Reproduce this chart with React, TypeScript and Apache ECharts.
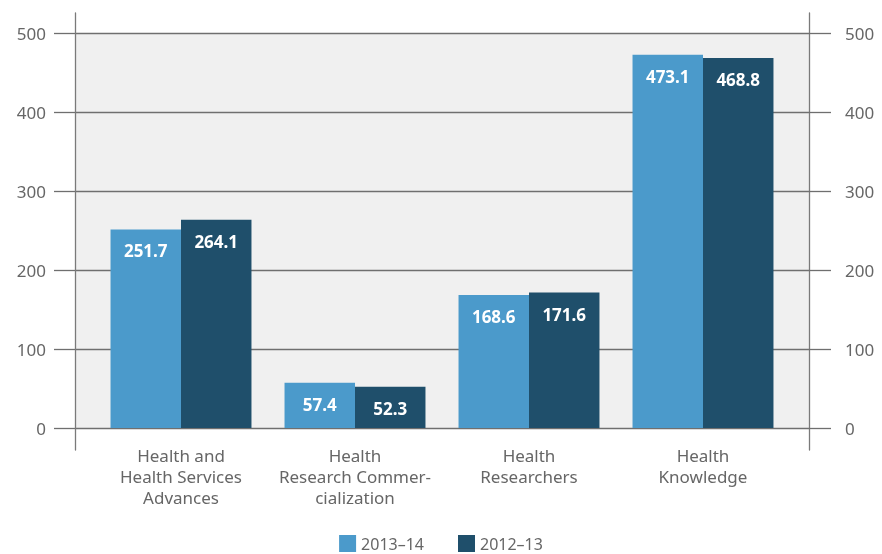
import React, { useEffect, useRef } from "react";
import * as echarts from "echarts";

const categories = [
  "Health and\nHealth Services\nAdvances",
  "Health\nResearch Commer-\ncialization",
  "Health\nResearchers",
  "Health\nKnowledge",
];
const seriesNames = ["2013–14", "2012–13"];
const values2013_14 = [251.7, 57.4, 168.6, 473.1];
const values2012_13 = [264.1, 52.3, 171.6, 468.8];
const yMin = 0;
const yMax = 500;
const yInterval = 100;

const FONT = "'Noto Sans', sans-serif";
const LIGHT = "#4b9acb";
const DARK = "#1f4f6b";
const GRIDLINE = "#6f6f6f";
const TEXT = "#666666";

export default function App() {
  const ref = useRef<HTMLDivElement>(null);
  useEffect(() => {
    if (!ref.current) return;
    const chart = echarts.init(ref.current, undefined, { renderer: "svg" });
    const valueLabel = {
      show: true,
      position: "insideTop",
      distance: 13,
      color: "#ffffff",
      fontWeight: "bold",
      fontSize: 17,
      lineHeight: 17,
      fontFamily: FONT,
      formatter: (p: any) => Number(p.value).toFixed(1),
    };
    chart.setOption({
      animation: false,
      textStyle: { fontFamily: FONT },
      legend: {
        data: seriesNames,
        top: 530,
        left: "center",
        icon: "rect",
        itemWidth: 17,
        itemHeight: 17,
        itemGap: 34,
        textStyle: { fontSize: 16, lineHeight: 17, color: TEXT, fontFamily: FONT },
      },
      grid: [
        { left: 75, right: 73, top: 33.5, bottom: 126, show: true, backgroundColor: "#f0f0f0", borderWidth: 0 },
        { left: 94, right: 92, top: 33.5, bottom: 126 },
        { left: 75, right: 73, top: 13, bottom: 104 },
      ],
      xAxis: [
        { type: "category", gridIndex: 0, data: ["a"], show: false },
        {
          type: "category",
          gridIndex: 1,
          data: categories,
          axisLine: { show: false },
          axisTick: { show: false },
          axisLabel: { interval: 0, fontSize: 17, color: TEXT, lineHeight: 21, margin: 17, fontFamily: FONT },
        },
        { type: "category", gridIndex: 2, data: ["a"], show: false },
      ],
      yAxis: [
        {
          type: "value",
          gridIndex: 0,
          position: "left",
          min: yMin,
          max: yMax,
          interval: yInterval,
          axisLine: { show: false },
          axisTick: { show: true, length: 21, lineStyle: { color: GRIDLINE, width: 1.3 } },
          splitLine: { show: true, lineStyle: { color: GRIDLINE, width: 1.3 } },
          axisLabel: { fontSize: 17, color: TEXT, margin: 29, fontFamily: FONT },
        },
        {
          type: "value",
          gridIndex: 0,
          position: "right",
          min: yMin,
          max: yMax,
          interval: yInterval,
          axisLine: { show: false },
          axisTick: { show: true, length: 22, lineStyle: { color: GRIDLINE, width: 1.3 } },
          splitLine: { show: false },
          axisLabel: { fontSize: 17, color: TEXT, margin: 36, fontFamily: FONT },
        },
        { type: "value", gridIndex: 1, min: yMin, max: yMax, interval: yInterval, show: false },
        {
          type: "value",
          gridIndex: 2,
          position: "left",
          min: 0,
          max: 1,
          axisLine: { show: true, lineStyle: { color: "#7a7a7a", width: 1.3 } },
          axisTick: { show: false },
          axisLabel: { show: false },
          splitLine: { show: false },
        },
        {
          type: "value",
          gridIndex: 2,
          position: "right",
          min: 0,
          max: 1,
          axisLine: { show: true, lineStyle: { color: "#7a7a7a", width: 1.3 } },
          axisTick: { show: false },
          axisLabel: { show: false },
          splitLine: { show: false },
        },
      ],
      series: [
        {
          name: seriesNames[0],
          type: "bar",
          xAxisIndex: 1,
          yAxisIndex: 2,
          data: values2013_14,
          itemStyle: { color: LIGHT },
          barGap: "0%",
          barCategoryGap: "19%",
          label: valueLabel,
        },
        {
          name: seriesNames[1],
          type: "bar",
          xAxisIndex: 1,
          yAxisIndex: 2,
          data: values2012_13,
          itemStyle: { color: DARK },
          barGap: "0%",
          barCategoryGap: "19%",
          label: valueLabel,
        },
      ],
    });
    return () => chart.dispose();
  }, []);
  return (
    <div
      ref={ref}
      style={{ position: "fixed", left: 0, top: 0, width: 882, height: 554 }}
    />
  );
}
